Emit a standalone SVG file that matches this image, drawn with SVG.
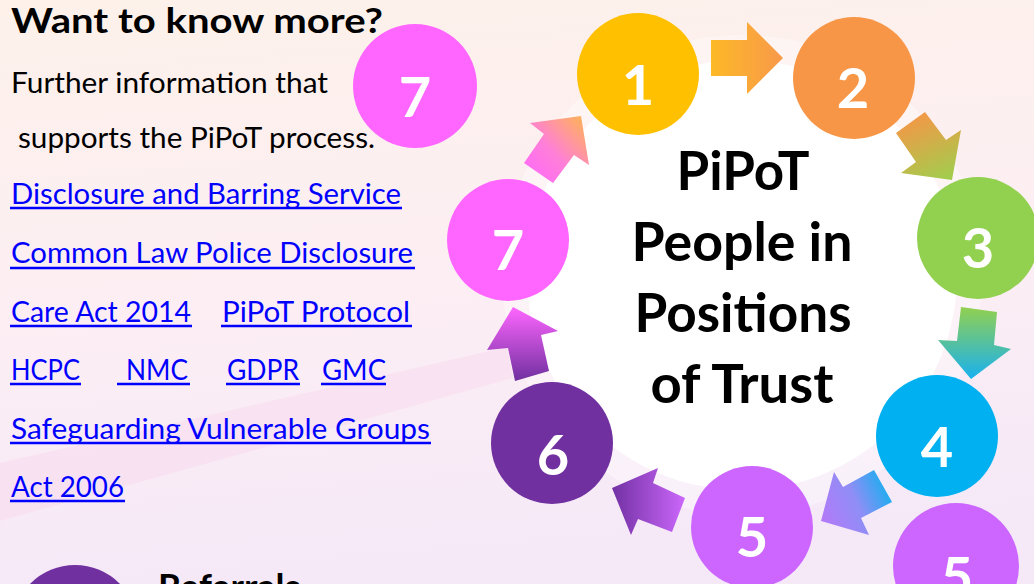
<svg xmlns="http://www.w3.org/2000/svg" width="1034" height="584" viewBox="0 0 1034 584">
  <defs>
    <linearGradient id="bg" x1="0" y1="0" x2="0.15" y2="1">
      <stop offset="0" stop-color="#fdf1ea"/>
      <stop offset="0.55" stop-color="#fceef3"/>
      <stop offset="1" stop-color="#f5e9f8"/>
    </linearGradient>
    <linearGradient id="g12" x1="0" y1="0" x2="1" y2="0">
      <stop offset="0" stop-color="#fdb927"/>
      <stop offset="1" stop-color="#f7994a"/>
    </linearGradient>
    <linearGradient id="g23" x1="0.3" y1="0" x2="0.7" y2="1">
      <stop offset="0" stop-color="#f79646"/>
      <stop offset="1" stop-color="#a3cc4d"/>
    </linearGradient>
    <linearGradient id="g34" x1="0" y1="0" x2="0" y2="1">
      <stop offset="0" stop-color="#92d050"/>
      <stop offset="1" stop-color="#18b1ef"/>
    </linearGradient>
    <linearGradient id="g45" x1="1" y1="0.3" x2="0" y2="0.7">
      <stop offset="0" stop-color="#14b0ef"/>
      <stop offset="0.5" stop-color="#8f8ef6"/>
      <stop offset="1" stop-color="#b27af8"/>
    </linearGradient>
    <linearGradient id="g56" x1="1" y1="0.5" x2="0" y2="0.5">
      <stop offset="0" stop-color="#cb67fb"/>
      <stop offset="1" stop-color="#7231a3"/>
    </linearGradient>
    <linearGradient id="g67" x1="0" y1="1" x2="0" y2="0">
      <stop offset="0" stop-color="#7030a0"/>
      <stop offset="1" stop-color="#ff66ff"/>
    </linearGradient>
    <linearGradient id="g71" x1="0" y1="1" x2="1" y2="0">
      <stop offset="0" stop-color="#ff66ff"/>
      <stop offset="0.45" stop-color="#ff7fd8"/>
      <stop offset="1" stop-color="#ffb84a"/>
    </linearGradient>
    <style>
      .h { font-family: Lato, "Open Sans", sans-serif; font-weight: 700; fill: #000; }
      .t { font-family: Lato, "Open Sans", sans-serif; font-size: 28px; fill: #000; }
      .lk { font-family: Lato, "Open Sans", sans-serif; font-size: 28px; fill: #0000ff; }
      .ul { stroke: #0000ff; stroke-width: 2.6; }
      .num { font-family: Lato, "Open Sans", sans-serif; font-weight: 700; font-size: 56px; fill: #fff; text-anchor: middle; }
      .ctr { font-family: Lato, "Open Sans", sans-serif; font-weight: 700; font-size: 53px; fill: #000; text-anchor: middle; }
    </style>
  </defs>

  <rect width="1034" height="584" fill="url(#bg)"/>
  <polygon points="0,463 507,347 513,378 0,521" fill="#f8dff0" opacity="0.75"/>

  <circle cx="742" cy="275" r="240" fill="#ffffff" opacity="0.35"/>
  <circle cx="742" cy="275" r="215" fill="#ffffff"/>

  <g id="info-text">
    <text class="h" x="11" y="33" font-size="35" textLength="372" lengthAdjust="spacingAndGlyphs">Want to know more?</text>
    <text class="t" x="11" y="93" textLength="317" lengthAdjust="spacingAndGlyphs">Further information that</text>
    <text class="t" x="18" y="148" textLength="357" lengthAdjust="spacingAndGlyphs">supports the PiPoT process.</text>
    <text class="lk" x="11" y="204" textLength="390" lengthAdjust="spacingAndGlyphs">Disclosure and Barring Service</text>
    <text class="lk" x="11" y="263" textLength="402" lengthAdjust="spacingAndGlyphs">Common Law Police Disclosure</text>
    <text class="lk" x="11" y="322" textLength="180" lengthAdjust="spacingAndGlyphs">Care Act 2014</text>
    <text class="lk" x="222" y="322" textLength="188" lengthAdjust="spacingAndGlyphs">PiPoT Protocol</text>
    <text class="lk" x="11" y="380" textLength="69" lengthAdjust="spacingAndGlyphs">HCPC</text>
    <text class="lk" x="126" y="380" textLength="62" lengthAdjust="spacingAndGlyphs">NMC</text>
    <text class="lk" x="227" y="380" textLength="72" lengthAdjust="spacingAndGlyphs">GDPR</text>
    <text class="lk" x="322" y="380" textLength="64" lengthAdjust="spacingAndGlyphs">GMC</text>
    <text class="lk" x="11" y="439" textLength="419" lengthAdjust="spacingAndGlyphs">Safeguarding Vulnerable Groups</text>
    <text class="lk" x="11" y="497" textLength="113" lengthAdjust="spacingAndGlyphs">Act 2006</text>
    <line class="ul" x1="10" y1="208" x2="402" y2="208"/>
    <line class="ul" x1="10" y1="268" x2="415" y2="268"/>
    <line class="ul" x1="10" y1="326" x2="192" y2="326"/>
    <line class="ul" x1="221" y1="326" x2="412" y2="326"/>
    <line class="ul" x1="10" y1="384" x2="81" y2="384"/>
    <line class="ul" x1="117" y1="384" x2="190" y2="384"/>
    <line class="ul" x1="226" y1="384" x2="300" y2="384"/>
    <line class="ul" x1="321" y1="384" x2="386" y2="384"/>
    <line class="ul" x1="10" y1="443" x2="431" y2="443"/>
    <line class="ul" x1="10" y1="501" x2="125" y2="501"/>
  </g>

  <g id="centre-title">
    <text class="ctr" x="743" y="190" textLength="133" lengthAdjust="spacingAndGlyphs">PiPoT</text>
    <text class="ctr" x="742" y="261" textLength="221" lengthAdjust="spacingAndGlyphs">People in</text>
    <text class="ctr" x="743" y="332" textLength="217" lengthAdjust="spacingAndGlyphs">Positions</text>
    <text class="ctr" x="742" y="403" textLength="183" lengthAdjust="spacingAndGlyphs">of Trust</text>
  </g>

  <g id="connectors">
    <polygon points="711,40 747,40 747,22 783,58 747,94 747,76 711,76" fill="url(#g12)"/>
    <polygon points="896,133 925,112 946,140 961,130 952,180 901,173 916,162" fill="url(#g23)"/>
    <polygon points="961,307 997,312 994,345 1011,349 971,379 938,340 957,341" fill="url(#g34)"/>
    <polygon points="874,470 892,502 861,518 869,535 821,521 834,472 843,487" fill="url(#g45)"/>
    <polygon points="685,498 672,532 638,519 631,535 612,488 658,468 653,483" fill="url(#g56)"/>
    <polygon points="513,307 558,331 541,335 549,371 515,381 508,348 487,350" fill="url(#g67)"/>
    <polygon points="581,116 589,165 574,155 553,183 524,163 544,134 530,123" fill="url(#g71)"/>
  </g>

  <g id="node-1">
    <circle cx="638" cy="74" r="61" fill="#ffc000"/>
    <text class="num" x="638" y="105">1</text>
  </g>
  <g id="node-2">
    <circle cx="854" cy="78" r="61" fill="#f79646"/>
    <text class="num" x="853" y="108">2</text>
  </g>
  <g id="node-3">
    <circle cx="978" cy="238" r="61" fill="#92d050"/>
    <text class="num" x="978" y="268">3</text>
  </g>
  <g id="node-4">
    <circle cx="937" cy="436" r="61" fill="#00b0f0"/>
    <text class="num" x="937" y="467">4</text>
  </g>
  <g id="node-5">
    <circle cx="752" cy="527" r="61" fill="#cc66ff"/>
    <text class="num" x="752" y="557">5</text>
  </g>
  <g id="node-5b">
    <circle cx="956" cy="566" r="63" fill="#cc66ff"/>
    <text class="num" x="957" y="597">5</text>
  </g>
  <g id="node-6">
    <circle cx="552" cy="443" r="61" fill="#7030a0"/>
    <text class="num" x="553" y="475">6</text>
  </g>
  <g id="node-7">
    <circle cx="508" cy="240" r="61" fill="#ff66ff"/>
    <text class="num" x="508" y="270">7</text>
  </g>
  <g id="node-7b">
    <circle cx="415" cy="86" r="62" fill="#ff66ff"/>
    <text class="num" x="415" y="117">7</text>
  </g>
  <g id="node-referrals">
    <circle cx="75" cy="628" r="63" fill="#7030a0"/>
    <text class="h" x="158" y="600" font-size="36">Referrals</text>
  </g>
</svg>
